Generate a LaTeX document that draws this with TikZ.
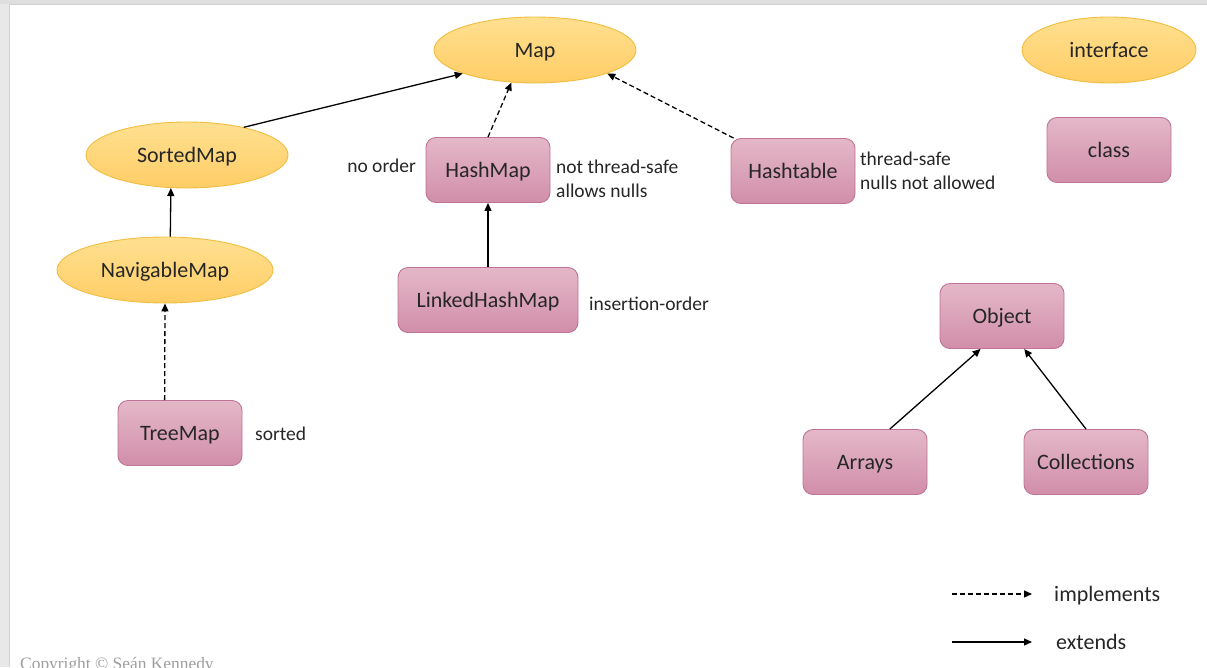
\documentclass[tikz,border=0pt]{standalone}
\usepackage{fontspec}
\setmainfont{Carlito}
\newfontfamily\serifcopy{Liberation Serif}
\usetikzlibrary{shapes.geometric,arrows.meta}
\definecolor{txt}{HTML}{262626}
\definecolor{ifTop}{HTML}{FFE090}
\definecolor{ifBot}{HTML}{FFCD66}
\definecolor{ifLine}{HTML}{F0BE40}
\definecolor{clTop}{HTML}{E4B8C8}
\definecolor{clBot}{HTML}{D18EA9}
\definecolor{clLine}{HTML}{BF7396}
\tikzset{
  iface/.style={ellipse, draw=ifLine, line width=0.9pt, top color=ifTop, bottom color=ifBot,
    minimum width=202pt, minimum height=66pt, inner sep=0pt, text=txt,
    font=\fontsize{22}{26}\selectfont, text height=15pt, text depth=0pt},
  cls/.style={rectangle, rounded corners=10pt, draw=clLine, line width=0.9pt, top color=clTop, bottom color=clBot,
    minimum width=124pt, minimum height=65pt, inner sep=0pt, text=txt,
    font=\fontsize{22}{26}\selectfont, text height=15pt, text depth=0pt},
  note/.style={anchor=base west, inner sep=0pt, text=txt, font=\fontsize{19.5}{24}\selectfont},
  legtxt/.style={anchor=base west, inner sep=0pt, text=txt, font=\fontsize{22}{26}\selectfont},
  ext/.style={line width=1.3pt, draw=black, -{Triangle[length=8pt,width=7pt]}},
  impl/.style={ext, dash pattern=on 5pt off 3pt}
}
\begin{document}
\begin{tikzpicture}[x=1pt,y=-1pt]
\useasboundingbox (0,0) rectangle (1207,667);
% page frame
\fill[white] (0,0) rectangle (1207,667);
\fill[black!9] (0,0) rectangle (9,667);
\fill[black!13] (0,0) rectangle (1207,4);
\draw[black!18, line width=1pt] (9,4) -- (9,667);
\draw[black!18, line width=1pt] (9,4.5) -- (1207,4.5);

% interfaces
\node[iface] (map) at (535,50) {Map};
\node[iface, minimum width=174pt] (ifleg) at (1109,50) {interface};
\node[iface] (sm) at (187,155) {SortedMap};
\node[iface, minimum width=216pt] (nm) at (165,270) {NavigableMap};

% classes
\node[cls] (hm) at (488,170) {HashMap};
\node[cls] (ht) at (793,171) {Hashtable};
\node[cls] (clleg) at (1109,150) {class};
\node[cls, minimum width=180pt] (lhm) at (488,300) {LinkedHashMap};
\node[cls] (tm) at (180,433) {TreeMap};
\node[cls] (obj) at (1002,316) {Object};
\node[cls] (arr) at (865,462) {Arrays};
\node[cls] (col) at (1086,462) {Collections};

% notes
\node[note, anchor=base east] (n1) at (416,172) {no order};
\node[note] (n2) at (556,173) {not thread-safe};
\node[note] (n3) at (556,197) {allows nulls};
\node[note] (n4) at (860,165) {thread-safe};
\node[note] (n5) at (860,189) {nulls not allowed};
\node[note] (n6) at (589,310) {insertion-order};
\node[note] (n7) at (255,440) {sorted};

% connectors
\draw[ext] (sm.26) -- (map.198);
\draw[impl] (hm.north) -- (map.234);
\draw[ext] (lhm.north) -- (hm.south);
\draw[impl] (ht.151) -- (map.342);
\draw[ext] (nm.81) -- (sm.244);
\draw[impl] (tm.115) -- (nm.south);
\draw[ext] (arr.53) -- (obj.237);
\draw[ext] (col.north) -- (obj.304);

% legend
\coordinate (la1) at (952,594);
\coordinate (lb1) at (1032,594);
\coordinate (la2) at (952,642);
\coordinate (lb2) at (1032,642);
\draw[impl, line width=1.1pt] (la1) -- (lb1);
\draw[ext, line width=1.1pt] (la2) -- (lb2);
\node[legtxt] (limpl) at (1054,601) {implements};
\node[legtxt] (lext) at (1056,649) {extends};

% copyright (cut off at the lower edge, as in the reference)
\node[anchor=base west, inner sep=0pt, text=black!38, font=\serifcopy\fontsize{17.4}{20}\selectfont] (copy) at (20,669) {Copyright © Seán Kennedy};
\end{tikzpicture}
\end{document}
